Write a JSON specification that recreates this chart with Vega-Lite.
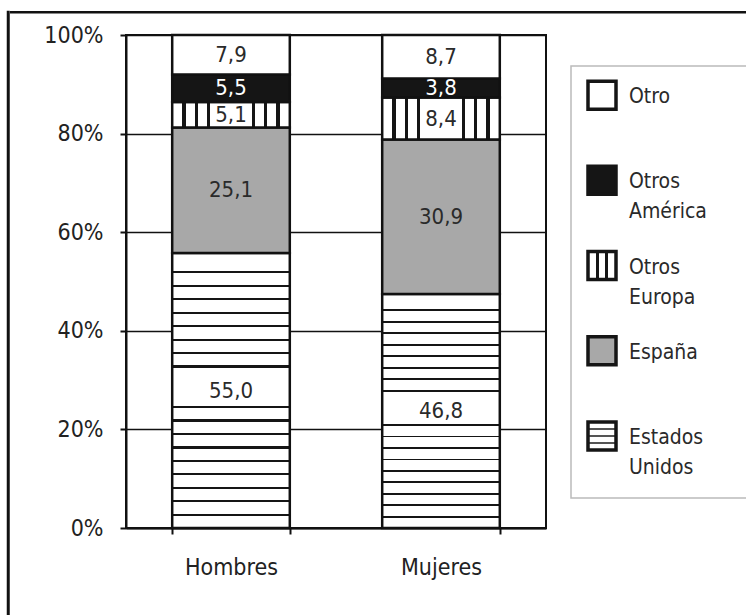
{
  "$schema": "https://vega.github.io/schema/vega-lite/v6.json",
  "padding": {"left": 6, "top": 10, "right": 0, "bottom": 0},
  "config": {
    "font": "DejaVu Sans Condensed",
    "locale": {"number": {"decimal": ",", "thousands": ".", "grouping": [3], "currency": ["", " €"]}},
    "view": {"stroke": "#111", "strokeWidth": 2}
  },
  "datasets": {
    "origen": [
      {"sexo": "Hombres", "origen": "Estados Unidos", "pct": 55.0},
      {"sexo": "Hombres", "origen": "España", "pct": 25.1},
      {"sexo": "Hombres", "origen": "Otros Europa", "pct": 5.1},
      {"sexo": "Hombres", "origen": "Otros América", "pct": 5.5},
      {"sexo": "Hombres", "origen": "Otro", "pct": 7.9},
      {"sexo": "Mujeres", "origen": "Estados Unidos", "pct": 46.8},
      {"sexo": "Mujeres", "origen": "España", "pct": 30.9},
      {"sexo": "Mujeres", "origen": "Otros Europa", "pct": 8.4},
      {"sexo": "Mujeres", "origen": "Otros América", "pct": 3.8},
      {"sexo": "Mujeres", "origen": "Otro", "pct": 8.7}
    ],
    "leyenda": [
      {"origen": "Otro"},
      {"origen": "Otros América"},
      {"origen": "Otros Europa"},
      {"origen": "España"},
      {"origen": "Estados Unidos"}
    ],
    "vacio": []
  },
  "spacing": 0,
  "hconcat": [
    {
      "width": 0.5,
      "height": 640,
      "view": {"stroke": "#111", "strokeWidth": 2.5},
      "data": {"name": "vacio"},
      "mark": "point"
    },
    {
      "spacing": 9,
      "vconcat": [
        {
          "width": 780,
          "height": 0.5,
          "view": {"stroke": "#111", "strokeWidth": 2},
          "data": {"name": "vacio"},
          "mark": "point"
        },
        {
          "spacing": 30,
          "hconcat": [
            {
              "width": 1,
              "height": 1,
              "view": {"stroke": null},
              "data": {"name": "vacio"},
              "mark": "point"
            },
            {
              "spacing": 23,
              "hconcat": [
                {
                  "width": 420,
                  "height": 493,
                  "data": {"name": "origen"},
                  "transform": [
                    {"calculate": "indexof(['Estados Unidos','España','Otros Europa','Otros América','Otro'], datum.origen)", "as": "orden"},
                    {"stack": "pct", "groupby": ["sexo"], "sort": [{"field": "orden", "order": "ascending"}], "offset": "normalize", "as": ["y0", "y1"]},
                    {"calculate": "(datum.y0 + datum.y1) / 2", "as": "ymid"}
                  ],
                  "layer": [
                    {
                      "mark": {"type": "bar", "stroke": "#111", "strokeWidth": 2.5},
                      "encoding": {
                        "x": {
                          "field": "sexo", "type": "nominal", "sort": ["Hombres", "Mujeres"],
                          "scale": {"paddingInner": 0.44, "paddingOuter": 0.22},
                          "axis": {"title": null, "labelAngle": 0, "labelFontSize": 23, "labelColor": "#222", "labelPadding": 22,
                                   "domainColor": "#111", "domainWidth": 2, "tickColor": "#111", "tickWidth": 2, "tickSize": 6, "tickBand": "extent"}
                        },
                        "y": {
                          "field": "y0", "type": "quantitative", "scale": {"domain": [0, 1]},
                          "axis": {"title": null, "values": [0, 0.2, 0.4, 0.6, 0.8, 1], "format": ".0%", "grid": true,
                                   "gridColor": "#111", "gridWidth": 1.5, "gridOpacity": 1, "domainColor": "#111", "domainWidth": 2,
                                   "tickColor": "#111", "tickWidth": 2, "tickSize": 6, "labelFontSize": 23, "labelColor": "#222", "labelPadding": 17}
                        },
                        "y2": {"field": "y1"},
                        "fill": {
                          "condition": [
                            {"test": "datum.origen === 'Otros América'", "value": "#151515"},
                            {"test": "datum.origen === 'España'", "value": "#a8a8a8"},
                            {"test": "datum.origen === 'Estados Unidos'", "value": {
                              "gradient": "linear", "x1": 0, "y1": 0, "x2": 0, "y2": 1,
                              "stops": [
                                {"offset": 0, "color": "#ffffff"},
                                {"offset": 0.066, "color": "#ffffff"}, {"offset": 0.066, "color": "#151515"}, {"offset": 0.074, "color": "#151515"}, {"offset": 0.074, "color": "#ffffff"},
                                {"offset": 0.115, "color": "#ffffff"}, {"offset": 0.115, "color": "#151515"}, {"offset": 0.123, "color": "#151515"}, {"offset": 0.123, "color": "#ffffff"},
                                {"offset": 0.164, "color": "#ffffff"}, {"offset": 0.164, "color": "#151515"}, {"offset": 0.172, "color": "#151515"}, {"offset": 0.172, "color": "#ffffff"},
                                {"offset": 0.213, "color": "#ffffff"}, {"offset": 0.213, "color": "#151515"}, {"offset": 0.221, "color": "#151515"}, {"offset": 0.221, "color": "#ffffff"},
                                {"offset": 0.262, "color": "#ffffff"}, {"offset": 0.262, "color": "#151515"}, {"offset": 0.270, "color": "#151515"}, {"offset": 0.270, "color": "#ffffff"},
                                {"offset": 0.311, "color": "#ffffff"}, {"offset": 0.311, "color": "#151515"}, {"offset": 0.319, "color": "#151515"}, {"offset": 0.319, "color": "#ffffff"},
                                {"offset": 0.360, "color": "#ffffff"}, {"offset": 0.360, "color": "#151515"}, {"offset": 0.368, "color": "#151515"}, {"offset": 0.368, "color": "#ffffff"},
                                {"offset": 0.409, "color": "#ffffff"}, {"offset": 0.409, "color": "#151515"}, {"offset": 0.417, "color": "#151515"}, {"offset": 0.417, "color": "#ffffff"},
                                {"offset": 0.556, "color": "#ffffff"}, {"offset": 0.556, "color": "#151515"}, {"offset": 0.564, "color": "#151515"}, {"offset": 0.564, "color": "#ffffff"},
                                {"offset": 0.605, "color": "#ffffff"}, {"offset": 0.605, "color": "#151515"}, {"offset": 0.613, "color": "#151515"}, {"offset": 0.613, "color": "#ffffff"},
                                {"offset": 0.654, "color": "#ffffff"}, {"offset": 0.654, "color": "#151515"}, {"offset": 0.662, "color": "#151515"}, {"offset": 0.662, "color": "#ffffff"},
                                {"offset": 0.703, "color": "#ffffff"}, {"offset": 0.703, "color": "#151515"}, {"offset": 0.711, "color": "#151515"}, {"offset": 0.711, "color": "#ffffff"},
                                {"offset": 0.752, "color": "#ffffff"}, {"offset": 0.752, "color": "#151515"}, {"offset": 0.760, "color": "#151515"}, {"offset": 0.760, "color": "#ffffff"},
                                {"offset": 0.801, "color": "#ffffff"}, {"offset": 0.801, "color": "#151515"}, {"offset": 0.809, "color": "#151515"}, {"offset": 0.809, "color": "#ffffff"},
                                {"offset": 0.850, "color": "#ffffff"}, {"offset": 0.850, "color": "#151515"}, {"offset": 0.858, "color": "#151515"}, {"offset": 0.858, "color": "#ffffff"},
                                {"offset": 0.899, "color": "#ffffff"}, {"offset": 0.899, "color": "#151515"}, {"offset": 0.907, "color": "#151515"}, {"offset": 0.907, "color": "#ffffff"},
                                {"offset": 0.948, "color": "#ffffff"}, {"offset": 0.948, "color": "#151515"}, {"offset": 0.956, "color": "#151515"}, {"offset": 0.956, "color": "#ffffff"},
                                {"offset": 1, "color": "#ffffff"}
                              ]
                            }},
                            {"test": "datum.origen === 'Otros Europa'", "value": {
                              "gradient": "linear", "x1": 0, "y1": 0, "x2": 1, "y2": 0,
                              "stops": [
                                {"offset": 0, "color": "#ffffff"},
                                {"offset": 0.086, "color": "#ffffff"}, {"offset": 0.086, "color": "#151515"}, {"offset": 0.114, "color": "#151515"}, {"offset": 0.114, "color": "#ffffff"},
                                {"offset": 0.191, "color": "#ffffff"}, {"offset": 0.191, "color": "#151515"}, {"offset": 0.219, "color": "#151515"}, {"offset": 0.219, "color": "#ffffff"},
                                {"offset": 0.296, "color": "#ffffff"}, {"offset": 0.296, "color": "#151515"}, {"offset": 0.324, "color": "#151515"}, {"offset": 0.324, "color": "#ffffff"},
                                {"offset": 0.676, "color": "#ffffff"}, {"offset": 0.676, "color": "#151515"}, {"offset": 0.704, "color": "#151515"}, {"offset": 0.704, "color": "#ffffff"},
                                {"offset": 0.781, "color": "#ffffff"}, {"offset": 0.781, "color": "#151515"}, {"offset": 0.809, "color": "#151515"}, {"offset": 0.809, "color": "#ffffff"},
                                {"offset": 0.886, "color": "#ffffff"}, {"offset": 0.886, "color": "#151515"}, {"offset": 0.914, "color": "#151515"}, {"offset": 0.914, "color": "#ffffff"},
                                {"offset": 1, "color": "#ffffff"}
                              ]
                            }}
                          ],
                          "value": "#ffffff"
                        }
                      }
                    },
                    {
                      "mark": {"type": "text", "fontSize": 22},
                      "encoding": {
                        "x": {"field": "sexo", "type": "nominal", "sort": ["Hombres", "Mujeres"]},
                        "y": {"field": "ymid", "type": "quantitative"},
                        "text": {"field": "pct", "type": "quantitative", "format": ".1f"},
                        "color": {"condition": {"test": "datum.origen === 'Otros América'", "value": "#ffffff"}, "value": "#2a2a2a"}
                      }
                    }
                  ]
                },
                {
                  "spacing": 25,
                  "vconcat": [
                    {
                      "width": 190,
                      "height": 5,
                      "view": {"stroke": null},
                      "data": {"name": "vacio"},
                      "mark": "point"
                    },
                    {
                      "width": 190,
                      "height": 432,
                      "view": {"stroke": "#bbbbbb", "strokeWidth": 1.5},
                      "data": {"name": "leyenda"},
                      "layer": [
                        {
                          "mark": {"type": "point", "shape": "square", "size": 784, "filled": true, "opacity": 1, "stroke": "#151515", "strokeWidth": 3.5},
                          "encoding": {
                            "y": {"field": "origen", "type": "nominal", "sort": ["Otro", "Otros América", "Otros Europa", "España", "Estados Unidos"],
                                  "scale": {"type": "point", "padding": 0.534, "align": 0.32}, "axis": null},
                            "x": {"value": 31},
                            "fill": {
                              "condition": [
                                {"test": "datum.origen === 'Otros América'", "value": "#151515"},
                                {"test": "datum.origen === 'España'", "value": "#a8a8a8"},
                                {"test": "datum.origen === 'Estados Unidos'", "value": {
                                  "gradient": "linear", "x1": 0, "y1": 0, "x2": 0, "y2": 1,
                                  "stops": [
                                    {"offset": 0, "color": "#ffffff"},
                                    {"offset": 0.2, "color": "#ffffff"}, {"offset": 0.2, "color": "#555555"}, {"offset": 0.3, "color": "#555555"}, {"offset": 0.3, "color": "#ffffff"},
                                    {"offset": 0.45, "color": "#ffffff"}, {"offset": 0.45, "color": "#555555"}, {"offset": 0.55, "color": "#555555"}, {"offset": 0.55, "color": "#ffffff"},
                                    {"offset": 0.7, "color": "#ffffff"}, {"offset": 0.7, "color": "#555555"}, {"offset": 0.8, "color": "#555555"}, {"offset": 0.8, "color": "#ffffff"},
                                    {"offset": 1, "color": "#ffffff"}
                                  ]
                                }},
                                {"test": "datum.origen === 'Otros Europa'", "value": {
                                  "gradient": "linear", "x1": 0, "y1": 0, "x2": 1, "y2": 0,
                                  "stops": [
                                    {"offset": 0, "color": "#ffffff"},
                                    {"offset": 0.28, "color": "#ffffff"}, {"offset": 0.28, "color": "#151515"}, {"offset": 0.38, "color": "#151515"}, {"offset": 0.38, "color": "#ffffff"},
                                    {"offset": 0.62, "color": "#ffffff"}, {"offset": 0.62, "color": "#151515"}, {"offset": 0.72, "color": "#151515"}, {"offset": 0.72, "color": "#ffffff"},
                                    {"offset": 1, "color": "#ffffff"}
                                  ]
                                }}
                              ],
                              "value": "#ffffff"
                            }
                          }
                        },
                        {
                          "mark": {"type": "text", "align": "left", "baseline": "alphabetic", "dy": 8, "fontSize": 21, "lineBreak": " ", "lineHeight": 30, "color": "#2a2a2a"},
                          "encoding": {
                            "y": {"field": "origen", "type": "nominal", "sort": ["Otro", "Otros América", "Otros Europa", "España", "Estados Unidos"]},
                            "x": {"value": 58},
                            "text": {"field": "origen"}
                          }
                        }
                      ]
                    }
                  ]
                }
              ]
            }
          ]
        }
      ]
    }
  ]
}
